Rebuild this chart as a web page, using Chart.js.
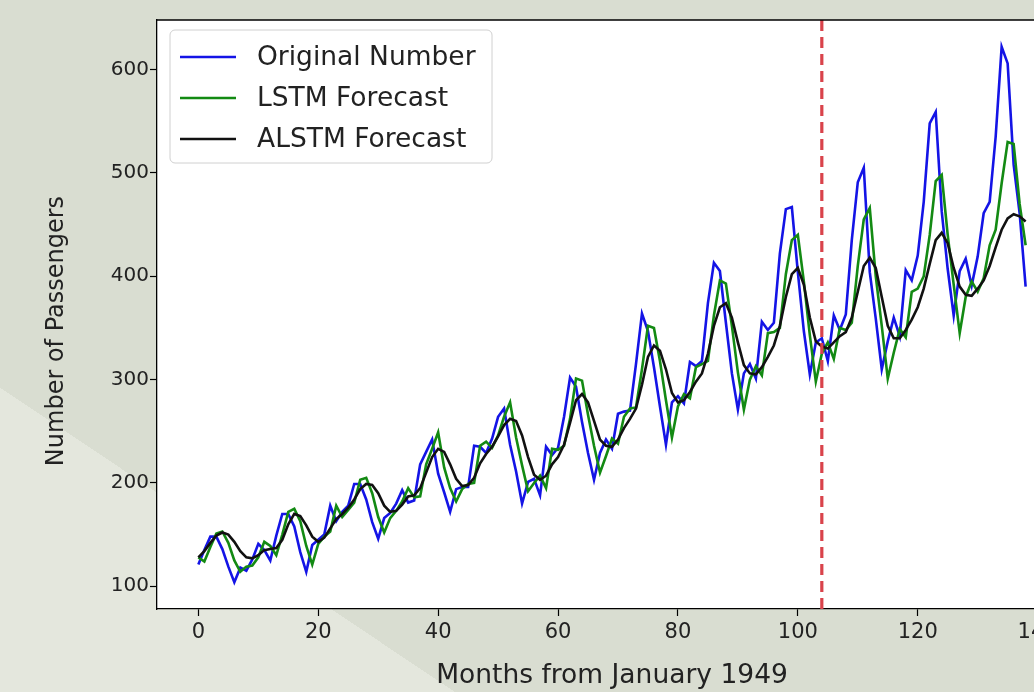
<!DOCTYPE html>
<html>
<head>
<meta charset="utf-8">
<script src="https://cdn.jsdelivr.net/npm/chart.js@4.4.1/dist/chart.umd.min.js"></script>
<style>
    html, body { margin: 0; padding: 0; }
    body {
        width: 1034px; height: 692px; overflow: hidden; position: relative;
        background: linear-gradient(to top right, #e4e7dd 0%, #e4e7dd 22%, #d9ddd1 22%, #d9ddd1 100%);
    }
    #wrap { position: absolute; left: 0; top: 0; width: 1100px; height: 692px; }
</style>
</head>
<body>
<div id="wrap"><canvas id="chart"></canvas></div>
<script>
// monthly values, x = month index from 0
const originalNumber = [121,135,148,148,136,119,104,118,
    115,126,141,135,125,149,170,170,158,133,114,140,
    145,150,178,163,172,178,199,199,184,162,146,166,
    171,180,193,181,183,218,230,242,209,191,172,194,
    196,196,236,235,229,243,264,272,237,211,180,201,
    204,188,235,227,234,264,302,293,259,229,203,229,
    242,233,267,269,270,315,364,347,312,274,237,278,
    284,277,317,313,318,374,413,405,355,306,271,306,
    315,301,356,348,355,422,465,467,404,347,305,336,
    340,318,362,348,363,435,491,505,404,359,310,337,
    360,342,406,396,420,472,548,559,463,407,362,405,
    417,391,419,461,472,535,622,606,508,461,390];
const lstmForecast = [128,124,138,151,153,142,125,114,119,120,
    128,143,139,130,150,172,175,163,139,121,
    141,148,153,178,167,174,181,203,205,190,
    167,152,166,173,182,195,186,187,218,233,
    249,215,195,182,194,199,200,236,240,234,
    246,264,278,244,217,192,200,207,195,233,
    232,236,262,301,299,266,236,210,226,243,
    238,264,272,273,310,352,350,318,280,244,
    274,286,282,312,315,318,362,396,393,352,
    307,271,300,313,304,345,346,350,402,435,
    440,395,343,298,325,336,320,350,348,355,
    410,455,466,400,352,301,326,349,341,385,
    388,400,440,492,498,440,392,345,380,395,
    385,398,430,445,490,530,528,470,430];
const alstmForecast = [128,134,142,149,152,150,143,134,128,127,
    130,135,136,137,145,160,170,168,159,148,
    143,147,156,165,170,176,184,194,199,198,
    190,178,172,173,179,187,188,195,210,225,
    233,230,218,204,197,198,205,219,228,235,
    245,256,262,260,246,225,208,203,207,218,
    225,237,258,280,286,278,260,242,236,235,
    242,253,262,272,295,322,333,328,310,287,
    278,280,288,298,306,325,352,370,374,360,
    336,314,306,305,312,322,333,352,380,402,
    408,392,360,337,332,330,336,342,346,360,
    385,410,418,408,380,352,340,340,348,358,
    370,388,412,435,442,432,408,390,382,381,
    388,396,410,428,445,456,460,458,453];
const seriesNames = ['Original Number', 'LSTM Forecast', 'ALSTM Forecast'];
const seriesColors = ['#1414e6', '#138a13', '#111111'];
const splitMonth = 104;
const xTicks = [0, 20, 40, 60, 80, 100, 120, 140];
const yTicks = [100, 200, 300, 400, 500, 600];
const xRange = [-6.9, 144.9];
const yRange = [78, 648];
const yTitle = 'Number of Passengers';

function toPoints(values) {
    return values.map((v, i) => ({ x: i, y: v }));
}

const FONT = 'DejaVu Sans';

// white plot area, top spine, y title, legend inside the plot
const framePlugin = {
    id: 'frame',
    beforeDraw(chart) {
        const ctx = chart.ctx, a = chart.chartArea;
        ctx.save();
        ctx.fillStyle = '#fff';
        ctx.fillRect(a.left, a.top, a.right - a.left, a.bottom - a.top);
        ctx.translate(57, 331);
        ctx.rotate(-Math.PI / 2);
        ctx.font = '24px "' + FONT + '"';
        ctx.fillStyle = '#222';
        ctx.textAlign = 'center';
        ctx.textBaseline = 'middle';
        ctx.fillText(yTitle, 0, 0);
        ctx.restore();
    },
    afterDatasetsDraw(chart) {
        const ctx = chart.ctx, a = chart.chartArea;
        ctx.save();
        ctx.strokeStyle = '#000';
        ctx.lineWidth = 1.3;
        ctx.beginPath();
        ctx.moveTo(a.left, a.top);
        ctx.lineTo(a.right, a.top);
        ctx.stroke();

        const bx = 170, by = 30, bw = 322, bh = 133, r = 5;
        ctx.beginPath();
        ctx.moveTo(bx + r, by);
        ctx.arcTo(bx + bw, by, bx + bw, by + bh, r);
        ctx.arcTo(bx + bw, by + bh, bx, by + bh, r);
        ctx.arcTo(bx, by + bh, bx, by, r);
        ctx.arcTo(bx, by, bx + bw, by, r);
        ctx.closePath();
        ctx.fillStyle = 'rgba(255,255,255,0.85)';
        ctx.fill();
        ctx.strokeStyle = '#d0d0d0';
        ctx.lineWidth = 1;
        ctx.stroke();

        ctx.font = '26.5px "' + FONT + '"';
        ctx.textBaseline = 'middle';
        seriesNames.forEach((name, i) => {
            const y = 57 + i * 41;
            ctx.strokeStyle = seriesColors[i];
            ctx.lineWidth = 2.6;
            ctx.beginPath();
            ctx.moveTo(180, y);
            ctx.lineTo(236, y);
            ctx.stroke();
            ctx.fillStyle = '#222';
            ctx.fillText(name, 257, y + 1);
        });
        ctx.restore();
    }
};

const datasets = [originalNumber, lstmForecast, alstmForecast].map((vals, i) => ({
    label: seriesNames[i],
    data: toPoints(vals),
    borderColor: seriesColors[i],
    borderWidth: 2.6,
    pointRadius: 0,
    tension: 0,
    order: 3 - i
}));
datasets.push({
    label: 'split',
    data: [{ x: splitMonth, y: yRange[0] }, { x: splitMonth, y: yRange[1] }],
    borderColor: '#d9434b',
    borderWidth: 3.2,
    borderDash: [11, 6],
    pointRadius: 0,
    order: 0
});

new Chart(document.getElementById('chart'), {
    type: 'line',
    data: { datasets },
    plugins: [framePlugin],
    options: {
        responsive: true,
        maintainAspectRatio: false,
        animation: false,
        layout: { padding: { top: 20, right: 33, bottom: 0, left: 0 } },
        plugins: { legend: { display: false }, tooltip: { enabled: false } },
        scales: {
            x: {
                type: 'linear',
                min: xRange[0], max: xRange[1],
                afterBuildTicks: s => { s.ticks = xTicks.map(v => ({ value: v })); },
                afterFit: s => { s.height = 83; },
                grid: { drawOnChartArea: false, drawTicks: true, tickLength: 7, tickColor: '#000', tickWidth: 1.2 },
                border: { display: true, color: '#000', width: 1.3 },
                ticks: { color: '#222', font: { family: FONT, size: 21 }, padding: 4, maxRotation: 0 },
                title: { display: true, text: 'Months from January 1949', color: '#222', font: { family: FONT, size: 26.5 }, padding: { top: 0, bottom: 0 } }
            },
            y: {
                type: 'linear',
                min: yRange[0], max: yRange[1],
                afterBuildTicks: s => { s.ticks = yTicks.map(v => ({ value: v })); },
                afterFit: s => { s.width = 157; },
                grid: { drawOnChartArea: false, drawTicks: true, tickLength: 7, tickColor: '#000', tickWidth: 1.2 },
                border: { display: true, color: '#000', width: 1.3 },
                ticks: { color: '#222', font: { family: FONT, size: 20 }, padding: 1 },
                title: { display: false }
            }
        }
    }
});
</script>
</body>
</html>
